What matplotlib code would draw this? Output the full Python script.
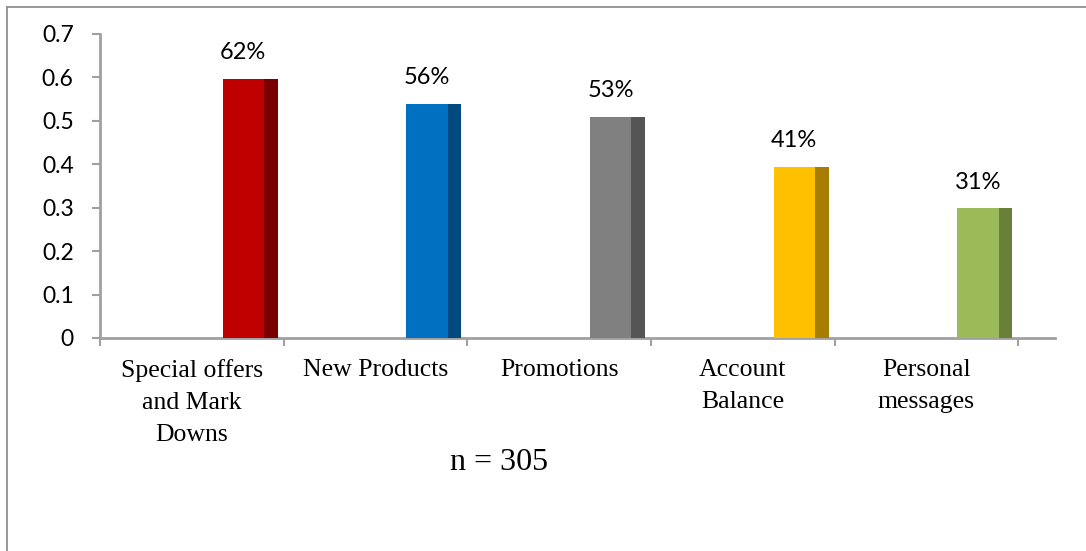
import matplotlib
matplotlib.use('Agg')
import matplotlib.pyplot as plt
from matplotlib.lines import Line2D
from matplotlib.ticker import FixedLocator

# Survey results (share of respondents)
categories = ['Special offers\nand Mark\nDowns', 'New Products', 'Promotions',
              'Account\nBalance', 'Personal\nmessages']
values = [0.62, 0.56, 0.53, 0.41, 0.31]
labels = ['62%', '56%', '53%', '41%', '31%']
y_ticks = [0, 0.1, 0.2, 0.3, 0.4, 0.5, 0.6, 0.7]
y_tick_labels = ['0', '0.1', '0.2', '0.3', '0.4', '0.5', '0.6', '0.7']
note = 'n = 305'

front_colors = ['#C00000', '#0070C0', '#808080', '#FFC000', '#9BBB59']
side_colors = ['#7A0000', '#004A7F', '#555555', '#A67D00', '#68803A']

# 3D look: front face sits in front of the back wall, so it reads a bit lower
DEPTH_SCALE = 0.962
FRONT_OFF = 0.168
FRONT_W = 0.225
SIDE_W = 0.075

fig = plt.figure(figsize=(10.86, 5.51), dpi=100)
ax = fig.add_axes([0.0921, 0.3866, 0.9714 - 0.0921, 0.9383 - 0.3866])

x = list(range(len(categories)))
heights = [v * DEPTH_SCALE for v in values]

ax.bar([i + FRONT_OFF for i in x], heights, width=FRONT_W, align='edge',
       color=front_colors, edgecolor='none', zorder=3)
ax.bar([i + FRONT_OFF + FRONT_W for i in x], heights, width=SIDE_W, align='edge',
       color=side_colors, edgecolor='none', zorder=3)

for i, h, lab in zip(x, heights, labels):
    ax.annotate(lab, (i + FRONT_OFF + FRONT_W / 2, h), xytext=(0, 19),
                textcoords='offset points', ha='center', va='center',
                fontsize=17, family='Lato', color='black')

ax.set_xlim(-0.5, 4.7)
ax.set_ylim(0, 0.7)

# axes styling
for s in ['top', 'right']:
    ax.spines[s].set_visible(False)
for s in ['left', 'bottom']:
    ax.spines[s].set_color('#A0A0A0')
    ax.spines[s].set_linewidth(2)

ax.set_yticks(y_ticks)
ax.set_yticklabels(y_tick_labels, family='Lato', fontsize=16.5)
ax.tick_params(axis='y', length=6, width=1.5, color='#A0A0A0', pad=13)

ax.set_xticks(x)
ax.set_xticklabels(categories, family='Liberation Serif', fontsize=18.5,
                   linespacing=1.58)
ax.tick_params(axis='x', which='major', length=0, pad=15)
ax.xaxis.set_minor_locator(FixedLocator([i - 0.5 for i in range(len(categories) + 1)]))
ax.tick_params(axis='x', which='minor', length=6, width=1.5, color='#A0A0A0')

fig.text(0.4595, 0.1615, note, ha='center', va='center',
         family='Liberation Serif', fontsize=23)

# chart frame (only top and left edges visible)
fig.add_artist(Line2D([0.006, 0.006], [0, 0.988], transform=fig.transFigure,
                      color='#909090', lw=1.3))
fig.add_artist(Line2D([0.006, 1.0], [0.988, 0.988], transform=fig.transFigure,
                      color='#909090', lw=1.3))

fig.savefig('out.png', dpi=100)
